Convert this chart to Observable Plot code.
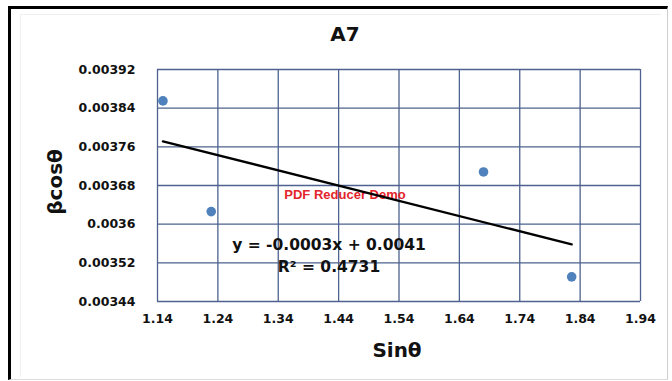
<!DOCTYPE html>
<html>
<head>
<meta charset="utf-8">
<script src="https://cdn.jsdelivr.net/npm/d3@7"></script>
<script src="https://cdn.jsdelivr.net/npm/@observablehq/plot@0.6"></script>
<style>
  body { margin: 0; background: #fff; width: 672px; height: 381px; overflow: hidden; position: relative; font-family: "DejaVu Sans", sans-serif; }
  #frame { position: absolute; left: 8px; top: 6px; width: 656px; height: 370px; border-top: 3px solid #000; border-left: 3px solid #000; border-right: 1px solid #cfcfcf; border-bottom: 1px solid #dcdcdc; }
  #inner { position: absolute; left: 20px; top: 14px; width: 640px; height: 362px; border-top: 1px solid #f0f0f0; border-left: 1px solid #f0f0f0; }
  #chart { position: absolute; left: 0; top: 0; }
  .t { position: absolute; font-weight: bold; color: #111; white-space: nowrap; transform: translate(-50%, -50%); }
</style>
</head>
<body>
<div id="frame"></div>
<div id="inner"></div>
<div id="chart"></div>
<div class="t" id="title" style="left:345px; top:34px; font-size:20px;"></div>
<div class="t" id="xlabel" style="left:397px; top:350px; font-size:20px;"></div>
<div class="t" id="ylabel" style="left:55px; top:182px; font-size:20px; transform: translate(-50%, -50%) rotate(-90deg);"></div>
<script>
// ---- data ----
const chartTitle = "A7";
const xTitle = "Sinθ";
const yTitle = "βcosθ";
const sinTheta = [1.149, 1.229, 1.680, 1.826];
const betaCosTheta = [0.003855, 0.003626, 0.003708, 0.003491];
const xTicks = [1.14, 1.24, 1.34, 1.44, 1.54, 1.64, 1.74, 1.84, 1.94];
const yTicks = [0.00344, 0.00352, 0.0036, 0.00368, 0.00376, 0.00384, 0.00392];
const fitLabel = "y = -0.0003x + 0.0041";
const r2Label = "R² = 0.4731";
const watermark = "PDF Reducer Demo";

document.getElementById("title").textContent = chartTitle;
document.getElementById("xlabel").textContent = xTitle;
document.getElementById("ylabel").textContent = yTitle;

const points = sinTheta.map((x, i) => ({x, y: betaCosTheta[i]}));
const gridColor = "#4d628e";

const chart = Plot.plot({
  width: 672,
  height: 381,
  marginLeft: 157,
  marginRight: 32,
  marginTop: 69,
  marginBottom: 80,
  style: { background: "transparent", fontFamily: "DejaVu Sans, sans-serif", fontWeight: "bold", fontSize: "12.5px", color: "#111" },
  x: { domain: [1.14, 1.94], ticks: xTicks, tickFormat: d => d.toFixed(2), tickSize: 0, tickPadding: 13, label: null },
  y: { domain: [0.00344, 0.00392], ticks: yTicks, tickFormat: d => String(d), tickSize: 0, tickPadding: 22, label: null },
  marks: [
    Plot.gridX(xTicks, { stroke: gridColor, strokeOpacity: 1, strokeWidth: 1.3 }),
    Plot.gridY(yTicks, { stroke: gridColor, strokeOpacity: 1, strokeWidth: 1.3 }),
    Plot.text([watermark], { text: d => d, frameAnchor: "middle", dx: -54, dy: 9, fill: "#e3242b", fontSize: 13, fontWeight: "bold", fontFamily: "Liberation Sans, Arial, sans-serif" }),
    Plot.linearRegressionY(points, { x: "x", y: "y", ci: 0, stroke: "#000", strokeWidth: 2.3 }),
    Plot.dot(points, { x: "x", y: "y", r: 4.8, fill: "#4f81bd" }),
    Plot.text([fitLabel], { text: d => d, frameAnchor: "bottom", dx: -70, dy: -52, fontSize: 15.5, fontWeight: "bold", fill: "#111" }),
    Plot.text([r2Label], { text: d => d, frameAnchor: "bottom", dx: -70, dy: -30, fontSize: 15.5, fontWeight: "bold", fill: "#111" })
  ]
});
document.getElementById("chart").appendChild(chart);
</script>
</body>
</html>
